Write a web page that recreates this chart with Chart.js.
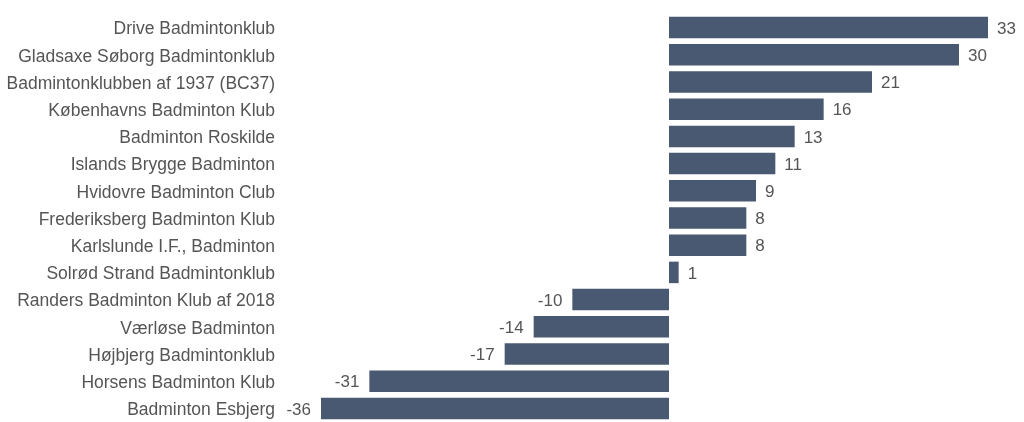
<!DOCTYPE html>
<html>
<head>
<meta charset="utf-8">
<script src="https://cdn.jsdelivr.net/npm/chart.js@4"></script>
<style>
html,body{margin:0;padding:0;background:#fff;overflow:hidden;}
canvas{display:block;}
</style>
</head>
<body>
<canvas id="c" width="1024" height="422" style="width:1024px;height:422px;"></canvas>
<script>
const categories = [
  "Drive Badmintonklub",
  "Gladsaxe Søborg Badmintonklub",
  "Badmintonklubben af 1937 (BC37)",
  "Københavns Badminton Klub",
  "Badminton Roskilde",
  "Islands Brygge Badminton",
  "Hvidovre Badminton Club",
  "Frederiksberg Badminton Klub",
  "Karlslunde I.F., Badminton",
  "Solrød Strand Badmintonklub",
  "Randers Badminton Klub af 2018",
  "Værløse Badminton",
  "Højbjerg Badmintonklub",
  "Horsens Badminton Klub",
  "Badminton Esbjerg"
];
const values = [33, 30, 21, 16, 13, 11, 9, 8, 8, 1, -10, -14, -17, -31, -36];

const barColor = "#4a5972";
const textColor = "#555555";
const fontFamily = "'Liberation Sans', Arial, sans-serif";

const valueLabels = {
  id: "valueLabels",
  afterDatasetsDraw(chart) {
    const ctx = chart.ctx;
    const meta = chart.getDatasetMeta(0);
    ctx.save();
    ctx.font = "17px " + fontFamily;
    ctx.fillStyle = textColor;
    ctx.textBaseline = "middle";
    meta.data.forEach((bar, i) => {
      const v = values[i];
      if (v >= 0) {
        ctx.textAlign = "left";
        ctx.fillText(String(v), bar.x + 9, bar.y + 1.5);
      } else {
        ctx.textAlign = "right";
        ctx.fillText(String(v), bar.x - 10, bar.y + 1.5);
      }
    });
    ctx.restore();
  }
};

new Chart(document.getElementById("c"), {
  type: "bar",
  data: {
    labels: categories,
    datasets: [{
      data: values,
      backgroundColor: barColor,
      borderWidth: 0,
      barPercentage: 0.79,
      categoryPercentage: 1.0
    }]
  },
  options: {
    indexAxis: "y",
    responsive: false,
    maintainAspectRatio: false,
    devicePixelRatio: 1,
    animation: false,
    layout: { padding: { top: 14, bottom: 0, left: 0, right: 36 } },
    plugins: {
      legend: { display: false },
      tooltip: { enabled: false }
    },
    scales: {
      x: {
        min: -36,
        max: 33,
        display: false,
        grid: { display: false }
      },
      y: {
        grid: { display: false, drawTicks: false },
        border: { display: false },
        ticks: {
          padding: 46,
          color: textColor,
          font: { size: 17.5, family: fontFamily }
        },
        afterFit(axis) {
          axis.width = 321;
          axis.paddingTop = 0;
          axis.paddingBottom = 0;
          if (!axis._shifted) {
            const orig = axis.drawLabels;
            axis.drawLabels = function (area) {
              this.ctx.save();
              this.ctx.translate(0, 2);
              orig.call(this, area);
              this.ctx.restore();
            };
            axis._shifted = true;
          }
        }
      }
    }
  },
  plugins: [valueLabels]
});
</script>
</body>
</html>
